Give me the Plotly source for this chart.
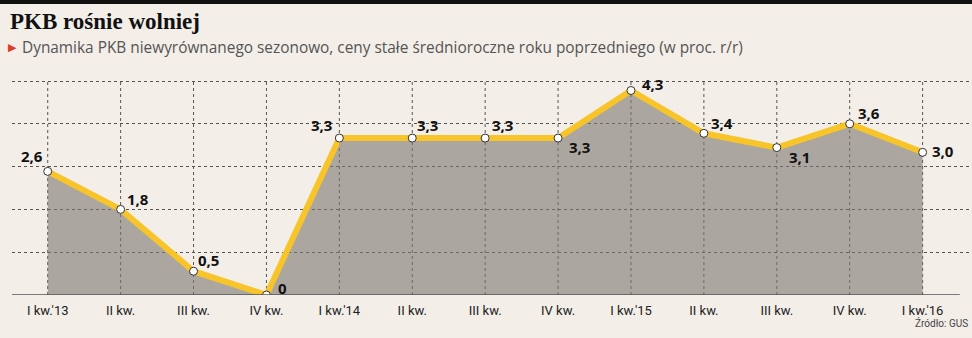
import plotly.graph_objects as go

categories = ["I kw.'13", "II kw.", "III kw.", "IV kw.", "I kw.'14", "II kw.", "III kw.", "IV kw.",
              "I kw.'15", "II kw.", "III kw.", "IV kw.", "I kw.'16"]
values = [2.6, 1.8, 0.5, 0.0, 3.3, 3.3, 3.3, 3.3, 4.3, 3.4, 3.1, 3.6, 3.0]
value_labels = ["2,6", "1,8", "0,5", "0", "3,3", "3,3", "3,3", "3,3", "4,3", "3,4", "3,1", "3,6", "3,0"]
grid_values = [0.9, 1.8, 2.7, 3.6, 4.5]
label_shift_x = [-16, 17, 15, 16, -18, 15, 17, 21, 22, 18, 23, 19, 20]
label_shift_y = [15, 10, 11, 7, 13, 13, 13, -9, 7, 10, -9, 11, 1]

xs = list(range(len(categories)))

W, H = 972, 338
PL, PR, PT, PB = 12, 970, 76, 295  # plot area in page pixels
Y_TOP = 4.5 * (PB - PT) / (PB - 81)


def px(x):
    return (x - PL) / (PR - PL)


def py(y):
    return (PB - y) / (PB - PT)


BG = "#f3eee8"
fig = go.Figure()
fig.add_trace(go.Scatter(
    x=xs, y=values, mode="lines+markers",
    fill="tozeroy", fillcolor="rgba(124,118,112,0.6)",
    line=dict(color="#f7c42a", width=6),
    marker=dict(size=8, color="white", line=dict(color="#333", width=1)),
    hoverinfo="skip", showlegend=False,
))

annotations = []
for x, v, t, dx, dy in zip(xs, values, value_labels, label_shift_x, label_shift_y):
    annotations.append(dict(x=x, y=v, xref="x", yref="y", text=t, showarrow=False,
                            xshift=dx, yshift=dy,
                            font=dict(family="Open Sans", size=15, color="#111", weight="bold")))

annotations += [
    dict(x=px(8), y=py(22), xref="paper", yref="paper", xanchor="left", yanchor="middle",
         showarrow=False, text="<b>PKB rośnie wolniej</b>",
         font=dict(family="Liberation Serif", size=23, color="#111")),
    dict(x=px(6), y=py(47), xref="paper", yref="paper", xanchor="left", yanchor="middle",
         showarrow=False, text="▶",
         font=dict(family="DejaVu Sans", size=11, color="#e03a2a")),
    dict(x=px(20), y=py(47), xref="paper", yref="paper", xanchor="left", yanchor="middle",
         showarrow=False, text="Dynamika PKB niewyrównanego sezonowo, ceny stałe średnioroczne roku poprzedniego (w proc. r/r)",
         font=dict(family="Open Sans", size=15.4, color="#555")),
    dict(x=px(970), y=py(323), xref="paper", yref="paper", xanchor="right", yanchor="middle",
         showarrow=False, text="Źródło: GUS",
         font=dict(family="Roboto", size=10, color="#444")),
]

fig.update_layout(
    width=W, height=H,
    margin=dict(l=PL, r=W - PR, t=PT, b=H - PB),
    paper_bgcolor=BG, plot_bgcolor=BG,
    annotations=annotations,
    xaxis=dict(range=[-0.49, 12.65], tickvals=xs, ticktext=categories,
               showgrid=False,
               zeroline=False, showline=False, ticks="", ticklabelstandoff=6,
               tickfont=dict(family="Roboto", size=13, color="#222"), fixedrange=True),
    yaxis=dict(range=[0, Y_TOP], tickmode="array", tickvals=grid_values, showticklabels=False,
               showgrid=True, gridcolor="#555", griddash="dot", gridwidth=1,
               zeroline=False, showline=False, ticks="", fixedrange=True),
    shapes=[
        dict(type="rect", xref="paper", yref="paper", x0=px(-5), x1=px(980), y0=py(4), y1=py(-5),
             fillcolor="#111", line=dict(width=0), layer="above"),
        dict(type="line", xref="x", yref="y", x0=-0.49, x1=12.51, y0=0, y1=0,
             line=dict(color="#555", width=1.5), layer="above"),
    ] + [
        dict(type="line", xref="x", yref="y", x0=x, x1=x, y0=0, y1=grid_values[-1],
             line=dict(color="#555", width=1, dash="dot"), layer="below")
        for x in xs
    ],
)

fig.write_html("out.html")
